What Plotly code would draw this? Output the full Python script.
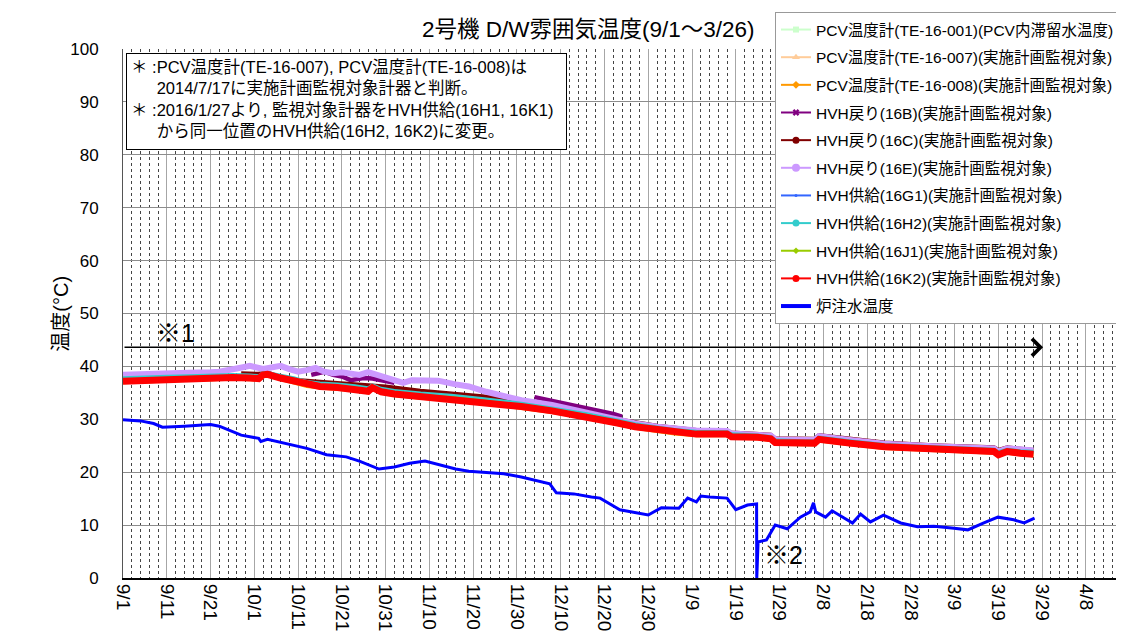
import plotly.graph_objects as go

FONT = "Liberation Sans, 'Noto Sans CJK JP', sans-serif"

# ---------------- data ----------------
band_dates = ["2015-09-01", "2015-09-06", "2015-09-11", "2015-09-16", "2015-09-21", "2015-09-26",
              "2015-09-30", "2015-10-02", "2015-10-03", "2015-10-04", "2015-10-07", "2015-10-10",
              "2015-10-13", "2015-10-16", "2015-10-20", "2015-10-24", "2015-10-27", "2015-10-28",
              "2015-10-30", "2015-11-02", "2015-11-08", "2015-11-15", "2015-11-22", "2015-12-01",
              "2015-12-08", "2015-12-16", "2015-12-23", "2015-12-27", "2016-01-01", "2016-01-05",
              "2016-01-10", "2016-01-17", "2016-01-18", "2016-01-24", "2016-01-27", "2016-01-28",
              "2016-02-03", "2016-02-06", "2016-02-07", "2016-02-12", "2016-02-14", "2016-02-22",
              "2016-03-01", "2016-03-04", "2016-03-10", "2016-03-18", "2016-03-19", "2016-03-21",
              "2016-03-24", "2016-03-27"]

te001 = [37.4, 37.6, 37.7, 37.9, 38.0, 38.1, 38.0, 37.9, 38.6, 38.7,
         38.0, 37.4, 36.7, 36.4, 36.2, 35.9, 35.5, 36.2, 35.4, 35.0,
         34.5, 34.1, 33.5, 32.6, 31.8, 30.7, 29.5, 28.8, 28.2, 27.7,
         27.4, 27.4, 26.9, 26.8, 26.5, 25.8, 25.7, 25.7, 26.4, 25.8,
         25.7, 25.0, 24.7, 24.5, 24.3, 24.1, 23.5, 24.1, 23.8, 23.6]
te007 = [37.3, 37.5, 37.6, 37.8, 37.9, 38.0, 37.9, 37.8, 38.5, 38.6,
         37.9, 37.3, 36.6, 36.3, 36.1, 35.8, 35.4, 36.1, 35.3, 34.9,
         34.4, 34.0, 33.4, 32.5, 31.7, 30.6, 29.4, 28.7, 28.1, 27.6,
         27.3, 27.3, 26.8, 26.7, 26.4, 25.7, 25.6, 25.6, 26.3, 25.7,
         25.6, 24.9, 24.6, 24.4, 24.2, 24.0, 23.4, 24.0, 23.7, 23.5]
te008 = [36.9, 37.1, 37.2, 37.4, 37.5, 37.6, 37.5, 37.4, 38.1, 38.2,
         37.5, 36.9, 36.2, 35.9, 35.7, 35.4, 35.0, 35.7, 34.9, 34.5,
         34.0, 33.6, 33.0, 32.1, 31.3, 30.2, 29.0, 28.3, 27.7, 27.2,
         26.9, 26.9, 26.4, 26.3, 26.0, 25.3, 25.2, 25.2, 25.9, 25.3,
         25.2, 24.5, 24.2, 24.0, 23.8, 23.6, 23.0, 23.6, 23.3, 23.1]
hvh_g1 = [37.6, 37.8, 37.9, 38.1, 38.2, 38.3, 38.2, 38.1, 38.8, 38.9,
          38.2, 37.6, 36.9, 36.6, 36.4, 36.1, 35.7, 36.4, 35.6, 35.2,
          34.7, 34.3, 33.7, 32.8, 32.0, 30.9, 29.7, 29.0, 28.4, 27.9,
          27.6, 27.6, 27.1, 27.0, 26.7, 26.0, 25.9, 25.9, 26.6, 26.0,
          25.9, 25.2, 24.9, 24.7, 24.5, 24.3, 23.7, 24.3, 24.0, 23.8]
hvh_h2 = [37.9, 38.1, 38.2, 38.3, 38.4, 38.5, 38.4, 38.3, 38.9, 38.9,
          38.4, 37.9, 37.2, 36.9, 36.7, 36.4, 36.0, 36.6, 35.9, 35.5,
          35.0, 34.6, 34.0, 33.1, 32.2, 31.1, 29.9, 29.2, 28.6, 28.1,
          27.8, 27.7, 27.3, 27.1, 26.8, 26.2, 26.0, 26.0, 26.7, 26.1,
          26.0, 25.3, 25.0, 24.8, 24.6, 24.4, 23.9, 24.4, 24.1, 24.0]
hvh_j1 = [37.5, 37.7, 37.8, 38.0, 38.1, 38.2, 38.1, 38.0, 38.7, 38.8,
          38.1, 37.5, 36.8, 36.5, 36.3, 36.0, 35.6, 36.3, 35.5, 35.1,
          34.6, 34.2, 33.6, 32.7, 31.9, 30.8, 29.6, 28.9, 28.3, 27.8,
          27.5, 27.5, 27.0, 26.9, 26.6, 25.9, 25.8, 25.8, 26.5, 25.9,
          25.8, 25.1, 24.8, 24.6, 24.4, 24.2, 23.6, 24.2, 23.9, 23.7]
hvh_k2 = [37.2, 37.4, 37.5, 37.7, 37.8, 37.9, 37.8, 37.7, 38.4, 38.5,
          37.8, 37.2, 36.5, 36.2, 36.0, 35.7, 35.3, 36.0, 35.2, 34.8,
          34.3, 33.9, 33.3, 32.4, 31.6, 30.5, 29.3, 28.6, 28.0, 27.5,
          27.2, 27.2, 26.7, 26.6, 26.3, 25.6, 25.5, 25.5, 26.2, 25.6,
          25.5, 24.8, 24.5, 24.3, 24.1, 23.9, 23.3, 23.9, 23.6, 23.4]

hvh_b_dates = ["2015-10-14", "2015-10-16", "2015-10-17", "2015-10-19", "2015-10-21", "2015-10-23",
               "2015-10-26", "2015-10-28", "2015-10-31", "2015-11-02", "2015-11-03",
               "2015-12-04", "2015-12-07", "2015-12-10", "2015-12-13", "2015-12-16", "2015-12-19",
               "2015-12-22", "2015-12-24"]
hvh_b = [38.4, 38.8, 39.0, 38.4, 38.1, 37.4, 37.8, 37.7, 37.1, 36.9, None,
         34.2, 33.7, 33.2, 32.7, 32.2, 31.6, 31.0, 30.5]

hvh_c_dates = ["2015-09-28", "2015-10-02", "2015-10-04", "2015-10-08", "2015-10-16", "2015-10-24",
               "2015-10-31", "2015-11-08", "2015-11-15", "2015-11-24", "2015-12-01", "2015-12-08",
               "2015-12-16", "2015-12-23", "2015-12-27", "2016-01-01", "2016-01-10", "2016-01-17",
               "2016-01-18", "2016-01-27", "2016-01-28", "2016-02-06", "2016-02-07", "2016-02-14",
               "2016-02-22", "2016-03-04", "2016-03-18", "2016-03-19", "2016-03-21", "2016-03-27"]
hvh_c = [38.7, 38.6, 38.9, 37.6, 37.1, 36.6, 36.2, 35.4, 34.9, 34.2, 33.5, 32.6,
         31.4, 30.0, 29.4, 28.8, 28.0, 27.9, 27.5, 27.1, 26.4, 26.3, 27.0, 26.3,
         25.6, 25.1, 24.7, 24.2, 24.7, 24.2]

hvh_e_dates = ["2015-09-01", "2015-09-06", "2015-09-11", "2015-09-16", "2015-09-21", "2015-09-23",
               "2015-09-27", "2015-09-30", "2015-10-03", "2015-10-05", "2015-10-07", "2015-10-09",
               "2015-10-11", "2015-10-13", "2015-10-15", "2015-10-17", "2015-10-19", "2015-10-21",
               "2015-10-23", "2015-10-25", "2015-10-27", "2015-10-29", "2015-10-31", "2015-11-04",
               "2015-11-06", "2015-11-08", "2015-11-12", "2015-11-16", "2015-11-19", "2015-11-23",
               "2015-12-01", "2015-12-08", "2015-12-16", "2015-12-23", "2015-12-27", "2016-01-01",
               "2016-01-10", "2016-01-17", "2016-01-18", "2016-01-27", "2016-01-28", "2016-02-06",
               "2016-02-07", "2016-02-14", "2016-02-22", "2016-03-04", "2016-03-18", "2016-03-19",
               "2016-03-21", "2016-03-27"]
hvh_e = [38.4, 38.6, 38.7, 38.8, 38.9, 39.0, 39.6, 40.1, 39.5, 39.8, 40.1, 39.5,
         39.0, 39.3, 39.7, 39.0, 38.7, 38.9, 38.7, 38.4, 38.9, 38.4, 37.8, 36.9,
         37.4, 37.3, 37.3, 36.6, 36.2, 35.2, 33.6, 32.7, 31.2, 29.9, 29.2, 28.6,
         27.9, 27.8, 27.3, 26.9, 26.2, 26.1, 26.8, 26.1, 25.4, 24.9, 24.5, 23.9,
         24.5, 24.1]

water_dates = ["2015-09-01", "2015-09-05", "2015-09-08", "2015-09-10", "2015-09-15", "2015-09-21",
               "2015-09-23", "2015-09-25", "2015-09-28", "2015-10-02", "2015-10-02 12:00",
               "2015-10-04", "2015-10-08", "2015-10-13", "2015-10-17 12:00", "2015-10-22",
               "2015-10-25", "2015-10-29 12:00", "2015-11-02", "2015-11-05 12:00", "2015-11-09",
               "2015-11-12", "2015-11-16", "2015-11-19", "2015-11-24", "2015-11-27", "2015-12-01",
               "2015-12-05", "2015-12-07 12:00", "2015-12-09", "2015-12-13", "2015-12-17",
               "2015-12-19", "2015-12-23 12:00", "2015-12-30", "2016-01-02", "2016-01-06",
               "2016-01-08", "2016-01-10", "2016-01-11", "2016-01-13", "2016-01-17", "2016-01-19",
               "2016-01-21 16:00", "2016-01-23 18:00", "2016-01-23 19:00", "2016-01-24 02:00",
               "2016-01-26", "2016-01-28", "2016-01-30 18:00", "2016-02-02 18:00", "2016-02-05",
               "2016-02-05 18:00", "2016-02-06 06:00", "2016-02-08 12:00", "2016-02-10",
               "2016-02-14 16:00", "2016-02-16 12:00", "2016-02-18 18:00", "2016-02-21 18:00",
               "2016-02-25 16:00", "2016-02-29 12:00", "2016-03-04 06:00", "2016-03-08 21:00",
               "2016-03-12", "2016-03-15 16:00", "2016-03-18 21:00", "2016-03-22 12:00",
               "2016-03-24 21:00", "2016-03-27 06:00"]
water = [29.9, 29.7, 29.2, 28.5, 28.7, 29.0, 28.7, 28.0, 27.0, 26.4, 25.8,
         26.2, 25.5, 24.5, 23.3, 22.9, 22.1, 20.6, 21.0, 21.7, 22.1,
         21.5, 20.6, 20.2, 19.8, 19.7, 19.1, 18.3, 17.8, 16.1, 15.9, 15.3,
         15.1, 12.9, 11.9, 13.3, 13.2, 15.1, 14.4, 15.5, 15.3, 15.1, 12.9,
         13.8, 14.0, 0.0, 6.8, 7.2, 10.0, 9.3, 11.5, 12.5,
         14.2, 12.5, 11.5, 12.7, 10.4, 12.1, 10.6, 11.9,
         10.4, 9.7, 9.8, 9.4, 9.1, 10.4, 11.5, 11.0, 10.4, 11.3]

tick_start = "2015-09-01"
x_range = ["2015-09-01", "2016-04-16"]
arrow_level = 43.6

names = ["PCV温度計(TE-16-001)(PCV内滞留水温度)",
         "PCV温度計(TE-16-007)(実施計画監視対象)",
         "PCV温度計(TE-16-008)(実施計画監視対象)",
         "HVH戻り(16B)(実施計画監視対象)",
         "HVH戻り(16C)(実施計画監視対象)",
         "HVH戻り(16E)(実施計画監視対象)",
         "HVH供給(16G1)(実施計画監視対象)",
         "HVH供給(16H2)(実施計画監視対象)",
         "HVH供給(16J1)(実施計画監視対象)",
         "HVH供給(16K2)(実施計画監視対象)",
         "炉注水温度"]

# ---------------- styles ----------------
series = [
    (band_dates, te001, "#CCFFCC", 3, "square", 6),
    (band_dates, te007, "#FFCC99", 3, "triangle-up", 7),
    (band_dates, te008, "#FF9900", 3, "diamond", 6),
    (hvh_b_dates, hvh_b, "#800080", 4.5, "x", 6),
    (hvh_c_dates, hvh_c, "#800000", 4, "circle", 7),
    (hvh_e_dates, hvh_e, "#CC99FF", 6, "circle", 8),
    (band_dates, hvh_g1, "#3366FF", 2, "circle", 3),
    (band_dates, hvh_h2, "#33CCCC", 2.5, "circle", 7),
    (band_dates, hvh_j1, "#99CC00", 2, "diamond", 5),
    (band_dates, hvh_k2, "#FF0000", 7, "circle", 7),
    (water_dates, water, "#0000FF", 3, None, 0),
]

fig = go.Figure()
for (xs, ys, col, w, sym, ms), nm in zip(series, names):
    fig.add_trace(go.Scatter(x=xs, y=ys, mode="lines", name=nm, legendgroup=nm,
                             showlegend=False, connectgaps=False,
                             line=dict(color=col, width=w)))
for (xs, ys, col, w, sym, ms), nm in zip(series, names):
    if sym is None:
        fig.add_trace(go.Scatter(x=[None], y=[None], mode="lines", name=nm, legendgroup=nm,
                                 line=dict(color=col, width=4)))
    else:
        fig.add_trace(go.Scatter(x=[None], y=[None], mode="lines+markers", name=nm,
                                 legendgroup=nm, line=dict(color=col, width=2),
                                 marker=dict(color=col, symbol=sym, size=ms)))

# page body has an 8px margin: figure is sized/margined to compensate
fig.update_layout(
    width=1116, height=629,
    template="none",
    margin=dict(l=115, r=3, t=41, b=59, autoexpand=False),
    paper_bgcolor="white", plot_bgcolor="white",
    font=dict(family=FONT, size=14, color="black"),
    showlegend=True,
    legend=dict(x=0.6533, y=1.07, xanchor="left", yanchor="top", bgcolor="white",
                bordercolor="#999999", borderwidth=1, font=dict(size=15.5, color="black"),
                tracegroupgap=4.5, traceorder="grouped"),
    xaxis=dict(type="date", range=x_range, tickmode="linear", tick0=tick_start,
               dtick=864000000, tickformat="%-m/%-d", tickangle=90,
               tickfont=dict(size=19), showgrid=True, gridcolor="#a6a6a6", gridwidth=1,
               minor=dict(tick0=tick_start, dtick=172800000, showgrid=True,
                          gridcolor="#444444", griddash="dot", gridwidth=1),
               showline=True, linecolor="black", linewidth=2, ticks="",
               zeroline=False, automargin=False, ticklabelstandoff=0),
    yaxis=dict(range=[0, 100], tickmode="linear", tick0=0, dtick=10,
               tickfont=dict(size=17), showgrid=True, gridcolor="#8c8c8c", gridwidth=1,
               showline=True, linecolor="#555555", linewidth=1, ticks="",
               zeroline=False, automargin=False, ticklabelstandoff=20),
)

# title
fig.add_annotation(text="2号機 D/W雰囲気温度(9/1～3/26)", xref="paper", yref="paper",
                   x=0.466, y=1.036, xanchor="center", yanchor="middle", showarrow=False,
                   font=dict(size=22.5, color="black"))
# y-axis title
fig.add_annotation(text="温度(°C)", xref="paper", yref="paper", x=-0.063, y=0.5,
                   textangle=-90, xanchor="center", yanchor="middle", showarrow=False,
                   font=dict(size=20, color="black"))
# note box
note = ("＊ :PCV温度計(TE-16-007), PCV温度計(TE-16-008)は<br>"
        "\u3000\u00a0\u00a02014/7/17に実施計画監視対象計器と判断。<br>"
        "＊ :2016/1/27より, 監視対象計器をHVH供給(16H1, 16K1)<br>"
        "\u3000\u00a0\u00a0から同一位置のHVH供給(16H2, 16K2)に変更。")
fig.add_annotation(text=note, xref="paper", yref="paper", x=0.003, y=0.9924,
                   xanchor="left", yanchor="top", showarrow=False, align="left",
                   valign="top", width=431, height=87, bgcolor="white",
                   bordercolor="black", borderwidth=1, borderpad=4,
                   font=dict(size=16.5, color="black"))
# arrow ※1
fig.add_annotation(x="2016-03-29 05:00", y=arrow_level, ax=tick_start, ay=arrow_level,
                   xref="x", yref="y", axref="x", ayref="y", text="", showarrow=True,
                   arrowhead=4, arrowsize=2.2, arrowwidth=1.5, arrowcolor="black",
                   standoff=0)
fig.add_annotation(x="2015-09-13", y=46.3, xref="x", yref="y", text="※1",
                   showarrow=False, font=dict(size=25, color="black"))
fig.add_annotation(x="2016-01-30", y=4.3, xref="x", yref="y", text="※2",
                   showarrow=False, font=dict(size=25, color="black"))

fig.write_html("out.html")
